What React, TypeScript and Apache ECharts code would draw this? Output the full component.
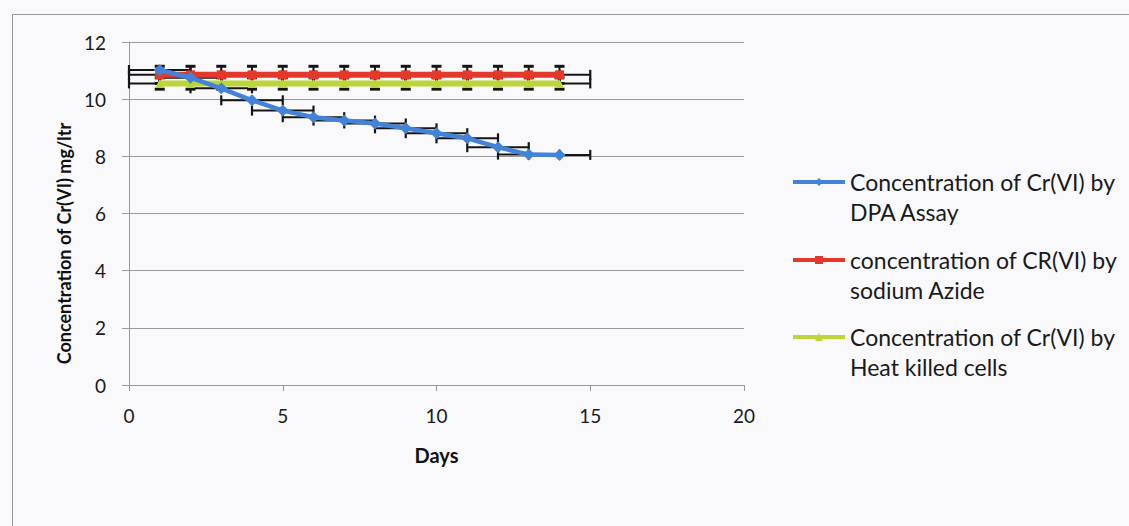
import React, { useEffect, useRef } from "react";
import * as echarts from "echarts";

const days = [1, 2, 3, 4, 5, 6, 7, 8, 9, 10, 11, 12, 13, 14];
const dpaAssay = [11.02, 10.75, 10.38, 9.96, 9.6, 9.37, 9.25, 9.15, 8.98, 8.81, 8.63, 8.32, 8.06, 8.05];
const sodiumAzide = [10.85, 10.85, 10.85, 10.85, 10.85, 10.85, 10.85, 10.85, 10.85, 10.85, 10.85, 10.85, 10.85, 10.85];
const heatKilled = [10.55, 10.55, 10.55, 10.55, 10.55, 10.55, 10.55, 10.55, 10.55, 10.55, 10.55, 10.55, 10.55, 10.55];
const xError = 1;
const dpaYError = 0;
const azideYError = 0.3;
const heatYError = 0.2;
const xTicks = [0, 5, 10, 15, 20];
const yTicks = [0, 2, 4, 6, 8, 10, 12];

const names = [
  "Concentration of Cr(VI) by DPA Assay",
  "concentration of CR(VI) by sodium Azide",
  "Concentration of Cr(VI) by Heat killed cells",
];
const legendLines: Record<string, string> = {
  [names[0]]: "\nConcentration of Cr(VI) by\nDPA Assay",
  [names[1]]: "\nconcentration of CR(VI) by\nsodium Azide",
  [names[2]]: "\nConcentration of Cr(VI) by\nHeat killed cells",
};

const FONT = "Lato, 'Open Sans', sans-serif";

function errorSeries(ys: number[], yErr: number) {
  return {
    type: "custom",
    z: 1,
    silent: true,
    clip: false,
    data: days.map((d, i) => [d, ys[i], xError, yErr]),
    renderItem: (params: any, api: any) => {
      const x = api.value(0);
      const y = api.value(1);
      const xe = api.value(2);
      const ye = api.value(3);
      const cap = 5;
      const stroke = "#151515";
      const l = api.coord([x - xe, y]);
      const r = api.coord([x + xe, y]);
      const children: any[] = [
        { type: "line", shape: { x1: l[0], y1: l[1], x2: r[0], y2: r[1] }, style: { stroke, lineWidth: 2 } },
        { type: "line", shape: { x1: l[0], y1: l[1] - cap, x2: l[0], y2: l[1] + cap }, style: { stroke, lineWidth: 2.2 } },
        { type: "line", shape: { x1: r[0], y1: r[1] - cap, x2: r[0], y2: r[1] + cap }, style: { stroke, lineWidth: 2.2 } },
      ];
      if (ye > 0) {
        const t = api.coord([x, y + ye]);
        const b = api.coord([x, y - ye]);
        children.push(
          { type: "line", shape: { x1: t[0], y1: t[1], x2: b[0], y2: b[1] }, style: { stroke, lineWidth: 2 } },
          { type: "line", shape: { x1: t[0] - cap, y1: t[1], x2: t[0] + cap, y2: t[1] }, style: { stroke, lineWidth: 3 } },
          { type: "line", shape: { x1: b[0] - cap, y1: b[1], x2: b[0] + cap, y2: b[1] }, style: { stroke, lineWidth: 3 } }
        );
      }
      return { type: "group", children };
    },
  };
}

function legendFor(name: string, top: number) {
  return {
    data: [name],
    orient: "vertical",
    left: 791,
    top,
    padding: 0,
    itemWidth: 52,
    itemHeight: 10,
    lineStyle: { width: 4 },
    formatter: (n: string) => legendLines[n],
    textStyle: {
      fontFamily: FONT,
      fontSize: 23,
      lineHeight: 30,
      color: "#1a1a1a",
    },
  };
}

export default function App() {
  const ref = useRef<HTMLDivElement>(null);
  useEffect(() => {
    if (!ref.current) return;
    const chart = echarts.init(ref.current, null, { renderer: "svg" });
    const colors = ["#4383d7", "#e3392b", "#bbd63a"];
    chart.setOption({
      animation: false,
      backgroundColor: "#f9f9fc",
      color: colors,
      textStyle: { fontFamily: FONT },
      graphic: [
        {
          type: "rect",
          shape: { x: 12.5, y: 14.5, width: 1200, height: 600 },
          style: { fill: "none", stroke: "#9a9a9a", lineWidth: 1 },
          silent: true,
        },
      ],
      grid: { left: 129, right: 385, top: 42, bottom: 141 },
      legend: [legendFor(names[0], 137), legendFor(names[1], 215), legendFor(names[2], 292)],
      xAxis: {
        type: "value",
        min: xTicks[0],
        max: xTicks[xTicks.length - 1],
        interval: 5,
        name: "Days",
        nameLocation: "middle",
        nameGap: 60,
        nameTextStyle: { fontFamily: FONT, fontWeight: "bold", fontSize: 20, color: "#111" },
        axisLine: { show: true, lineStyle: { color: "#9a9a9a", width: 1 } },
        axisTick: { show: true, length: 6, lineStyle: { color: "#9a9a9a" } },
        axisLabel: { fontFamily: FONT, fontSize: 19, color: "#1a1a1a", margin: 21 },
        splitLine: { show: false },
      },
      yAxis: {
        type: "value",
        min: yTicks[0],
        max: yTicks[yTicks.length - 1],
        interval: 2,
        name: "Concentration of Cr(VI) mg/ltr",
        nameLocation: "middle",
        nameGap: 53,
        nameTextStyle: {
          fontFamily: FONT,
          fontWeight: "bold",
          fontSize: 18,
          color: "#111",
          padding: [0, 60, 0, 0],
        },
        axisLine: { show: true, lineStyle: { color: "#9a9a9a", width: 1 } },
        axisTick: { show: true, length: 7, lineStyle: { color: "#9a9a9a" } },
        axisLabel: { fontFamily: FONT, fontSize: 19, color: "#1a1a1a", margin: 23 },
        splitLine: { show: true, lineStyle: { color: "#9a9a9a", width: 1 } },
      },
      series: [
        errorSeries(dpaAssay, dpaYError),
        errorSeries(sodiumAzide, azideYError),
        errorSeries(heatKilled, heatYError),
        {
          name: names[0],
          type: "line",
          z: 4,
          data: days.map((d, i) => [d, dpaAssay[i]]),
          symbol: "diamond",
          symbolSize: 12,
          lineStyle: { width: 4.5, color: colors[0] },
          itemStyle: { color: colors[0] },
        },
        {
          name: names[1],
          type: "line",
          z: 3,
          data: days.map((d, i) => [d, sodiumAzide[i]]),
          symbol: "rect",
          symbolSize: 9,
          lineStyle: { width: 6, color: colors[1] },
          itemStyle: { color: colors[1] },
        },
        {
          name: names[2],
          type: "line",
          z: 2,
          data: days.map((d, i) => [d, heatKilled[i]]),
          symbol: "triangle",
          symbolSize: 9,
          lineStyle: { width: 6, color: colors[2] },
          itemStyle: { color: colors[2] },
        },
      ],
    });
    return () => chart.dispose();
  }, []);
  return (
    <div
      ref={ref}
      style={{ position: "fixed", left: 0, top: 0, width: 1129, height: 526 }}
    />
  );
}
